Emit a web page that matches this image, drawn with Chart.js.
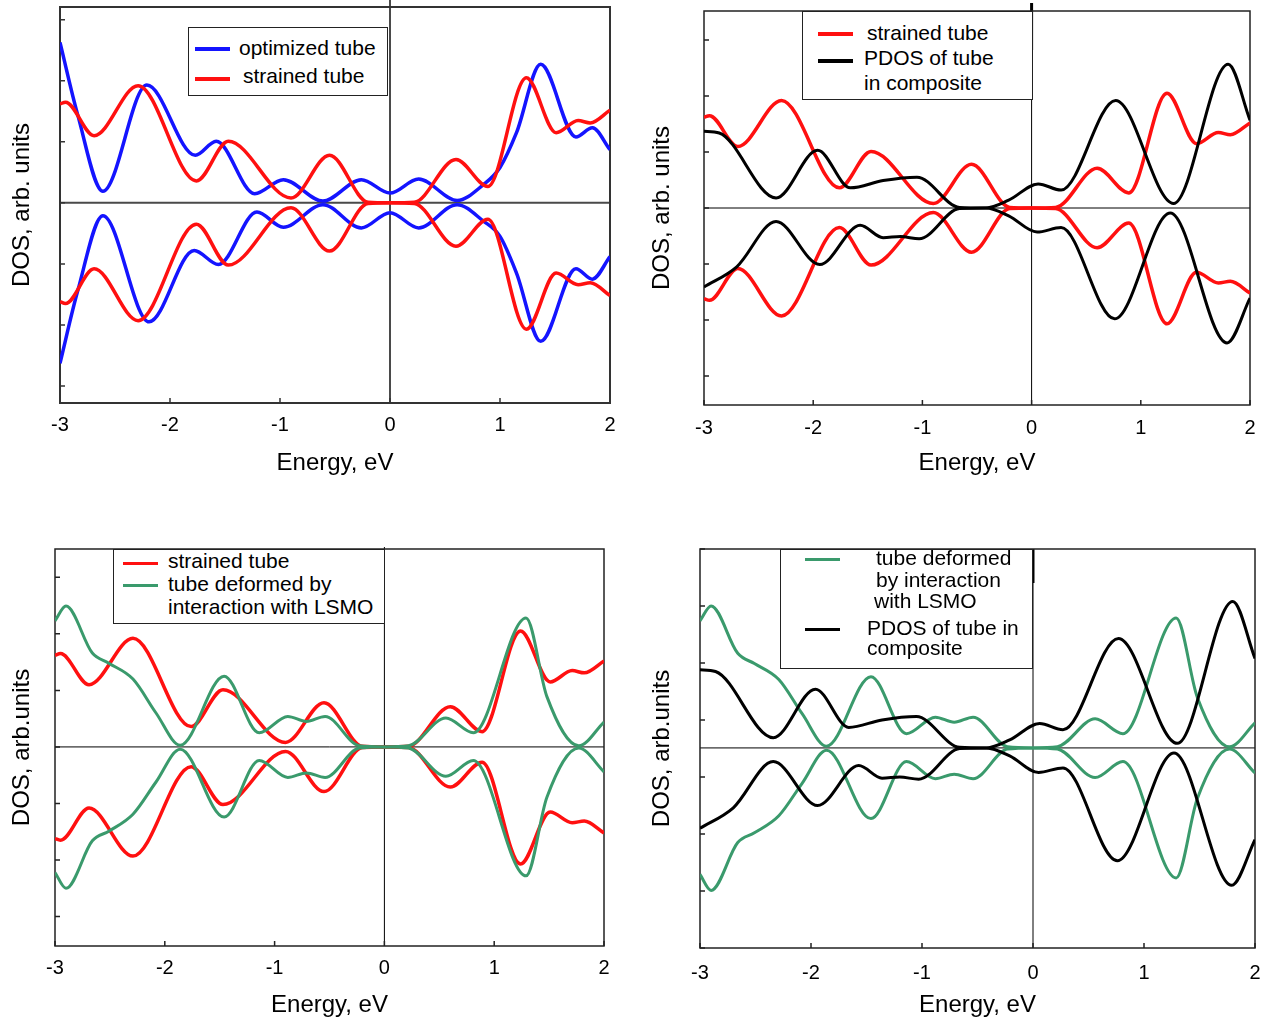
<!DOCTYPE html>
<html>
<head>
<meta charset="utf-8">
<script src="https://cdn.jsdelivr.net/npm/chart.js@4.4.1/dist/chart.umd.min.js"></script>
<style>
  body { margin: 0; background: #fff; width: 1275px; height: 1022px; position: relative; overflow: hidden;
         font-family: "Liberation Sans", Arial, sans-serif; }
  canvas { position: absolute; }
  .box { position: absolute; box-sizing: border-box; border: 1.5px solid #222; background: #fff; }
  .txt { position: absolute; white-space: nowrap; font-size: 21px; line-height: 21px; color: #000; }
  .smp { position: absolute; width: 35px; height: 3.5px; }
</style>
</head>
<body>
<canvas id="p1" width="637" height="490" style="left:0;top:0"></canvas>
<canvas id="p2" width="635" height="490" style="left:640px;top:0"></canvas>
<canvas id="p3" width="637" height="512" style="left:0;top:510px"></canvas>
<canvas id="p4" width="635" height="512" style="left:640px;top:510px"></canvas>

<!-- legend, top left -->
<div class="box" style="left:188px;top:27px;width:200px;height:69px"></div>
<div class="smp" style="left:195px;top:47px;background:#1414ff"></div>
<div class="smp" style="left:195px;top:77px;background:#ff1010"></div>
<div class="txt" style="left:239px;top:37px">optimized tube</div>
<div class="txt" style="left:243px;top:65px">strained tube</div>

<!-- legend, top right -->
<div class="box" style="left:802px;top:11px;width:231px;height:89px"></div>
<div class="smp" style="left:818px;top:32px;background:#ff1010"></div>
<div class="smp" style="left:818px;top:59px;background:#000"></div>
<div class="txt" style="left:867px;top:22px">strained tube</div>
<div class="txt" style="left:864px;top:47px">PDOS of tube</div>
<div class="txt" style="left:864px;top:72px">in composite</div>

<!-- legend, bottom left -->
<div class="box" style="left:113px;top:549px;width:272px;height:75px"></div>
<div class="smp" style="left:123px;top:562px;height:3px;background:#ff1010"></div>
<div class="smp" style="left:123px;top:584px;height:3px;background:#3a9a6c"></div>
<div class="txt" style="left:168px;top:550px">strained tube</div>
<div class="txt" style="left:168px;top:573px">tube deformed by</div>
<div class="txt" style="left:168px;top:596px">interaction with LSMO</div>

<!-- legend, bottom right -->
<div class="box" style="left:780px;top:549px;width:253px;height:120px"></div>
<div class="smp" style="left:805px;top:558px;height:3px;background:#3a9a6c"></div>
<div class="smp" style="left:805px;top:628px;height:3px;background:#000"></div>
<div class="txt" style="left:876px;top:547px">tube deformed</div>
<div class="txt" style="left:876px;top:569px">by interaction</div>
<div class="txt" style="left:874px;top:590px">with LSMO</div>
<div class="txt" style="left:867px;top:617px">PDOS of tube in</div>
<div class="txt" style="left:867px;top:637px">composite</div>

<script>
// energy axis, eV
const energyMin = -3;
const energyMax = 2;

// optimized tube (blue): spin up above zero, spin down below
const optUpE = [-3.00, -2.84, -2.61, -2.21, -1.77, -1.58, -1.23, -0.97, -0.61, -0.26, 0.00, 0.26, 0.61, 0.85, 1.00, 1.15, 1.37, 1.69, 1.84, 2.00];
const optUpV = [2.63, 1.45, 0.19, 1.93, 0.78, 1.01, 0.15, 0.38, 0.03, 0.38, 0.16, 0.39, 0.04, 0.30, 0.58, 1.15, 2.27, 1.08, 1.23, 0.87];
const optDnE = [-3.00, -2.84, -2.61, -2.19, -1.78, -1.56, -1.21, -0.97, -0.61, -0.26, 0.00, 0.26, 0.61, 0.85, 1.00, 1.15, 1.37, 1.69, 1.84, 2.00];
const optDnV = [-2.63, -1.45, -0.21, -1.95, -0.78, -1.01, -0.15, -0.40, -0.03, -0.41, -0.16, -0.41, -0.03, -0.30, -0.55, -1.15, -2.27, -1.08, -1.25, -0.88];

// strained tube (red)
const strE = [-3.00, -2.95, -2.69, -2.29, -1.76, -1.47, -0.90, -0.55, -0.20, 0.00, 0.22, 0.60, 0.89, 1.24, 1.51, 1.71, 1.82, 2.00];
const strUpV = [1.62, 1.65, 1.10, 1.92, 0.36, 1.01, 0.08, 0.78, 0.01, 0.00, 0.01, 0.71, 0.27, 2.05, 1.15, 1.35, 1.31, 1.52];
const strDnV = [-1.62, -1.65, -1.08, -1.93, -0.35, -1.02, -0.08, -0.79, -0.01, 0.00, -0.01, -0.71, -0.27, -2.07, -1.15, -1.34, -1.31, -1.52];

// PDOS of tube in composite (black)
const pdosUpE = [-3.00, -2.86, -2.34, -1.96, -1.66, -1.36, -1.05, -0.66, -0.42, -0.21, 0.06, 0.27, 0.77, 1.30, 1.80, 2.00];
const pdosUpV = [1.37, 1.34, 0.18, 1.03, 0.36, 0.49, 0.55, 0.01, 0.00, 0.14, 0.43, 0.32, 1.92, 0.08, 2.57, 1.57];
const pdosDnE = [-3.00, -2.70, -2.34, -1.94, -1.57, -1.36, -1.20, -1.03, -0.66, -0.42, -0.21, 0.05, 0.27, 0.76, 1.27, 1.79, 2.00];
const pdosDnV = [-1.41, -1.05, -0.24, -1.01, -0.31, -0.53, -0.51, -0.55, -0.01, 0.00, -0.14, -0.43, -0.35, -1.98, -0.09, -2.41, -1.61];

// tube deformed by interaction with LSMO (green)
const defE = [-3.00, -2.90, -2.66, -2.51, -2.29, -2.08, -1.86, -1.46, -1.14, -0.88, -0.71, -0.54, -0.23, 0.00, 0.22, 0.56, 0.81, 1.29, 1.48, 1.77, 2.00];
const defUpV = [2.23, 2.49, 1.66, 1.48, 1.20, 0.60, 0.03, 1.25, 0.25, 0.54, 0.45, 0.54, 0.02, 0.00, 0.02, 0.51, 0.25, 2.28, 0.89, 0.02, 0.44];
const defDnV = [-2.22, -2.50, -1.66, -1.49, -1.19, -0.62, -0.04, -1.24, -0.24, -0.54, -0.46, -0.54, -0.02, 0.00, -0.02, -0.52, -0.24, -2.28, -0.89, -0.02, -0.44];

const BLUE = "#1414ff";
const RED = "#ff1010";
const GREEN = "#3a9a6c";
const BLACK = "#000000";

Chart.defaults.font.family = '"Liberation Sans", Arial, sans-serif';
Chart.defaults.color = "#000";

function curve(label, es, vs, color, width) {
    return {
        label: label,
        data: es.map((e, i) => ({ x: e, y: vs[i] })),
        borderColor: color,
        borderWidth: width,
        pointRadius: 0,
        fill: false,
        cubicInterpolationMode: "monotone"
    };
}

// frame, zero lines and inward ticks
const framePlugin = {
    id: "frame",
    beforeDatasetsDraw(chart, args, o) {
        const ctx = chart.ctx;
        const a = chart.chartArea;
        const x = chart.scales.x;
        const y = chart.scales.y;
        const x0 = x.getPixelForValue(0);
        const y0 = y.getPixelForValue(0);

        ctx.save();
        ctx.strokeStyle = o.zeroColor;
        ctx.lineWidth = o.zeroWidth;
        ctx.beginPath();
        ctx.moveTo(a.left, y0);
        ctx.lineTo(a.right, y0);
        ctx.moveTo(x0, o.zeroTop ?? a.top);
        ctx.lineTo(x0, a.bottom);
        ctx.stroke();

        if (o.thick) {
            ctx.strokeStyle = "#000";
            ctx.lineWidth = 3;
            ctx.beginPath();
            ctx.moveTo(x0, o.thick[0]);
            ctx.lineTo(x0, o.thick[1]);
            ctx.stroke();
        }

        ctx.strokeStyle = o.frameColor;
        ctx.lineWidth = 1.5;
        ctx.beginPath();
        x.ticks.forEach(t => {
            const px = x.getPixelForValue(t.value);
            ctx.moveTo(px, a.bottom);
            ctx.lineTo(px, a.bottom - 5);
        });
        y.ticks.forEach(t => {
            const py = y.getPixelForValue(t.value);
            ctx.moveTo(a.left, py);
            ctx.lineTo(a.left + 5, py);
        });
        ctx.stroke();

        ctx.lineWidth = o.frameWidth;
        ctx.strokeRect(a.left, a.top, a.width, a.height);
        ctx.restore();
    }
};

function makePanel(id, p, datasets) {
    new Chart(document.getElementById(id), {
        type: "line",
        data: { datasets: datasets },
        plugins: [framePlugin],
        options: {
            responsive: false,
            animation: false,
            events: [],
            layout: { padding: { top: p.padTop, right: p.padRight, left: 0, bottom: 0 } },
            plugins: {
                legend: { display: false },
                tooltip: { enabled: false },
                frame: p.frame
            },
            scales: {
                x: {
                    type: "linear",
                    min: energyMin,
                    max: energyMax,
                    grid: { display: false, drawTicks: false },
                    border: { display: false },
                    ticks: { stepSize: 1, font: { size: 20 }, padding: p.tickPad, callback: v => String(v) },
                    title: { display: true, text: "Energy, eV", font: { size: 24 }, padding: { top: 0, bottom: p.titlePad } },
                    afterFit(s) { s.height = p.xH; }
                },
                y: {
                    type: "linear",
                    min: p.yMin,
                    max: p.yMax,
                    grid: { display: false, drawTicks: false },
                    border: { display: false },
                    ticks: { display: false, stepSize: 1, includeBounds: false },
                    title: { display: true, text: p.yTitle, font: { size: 24 }, padding: { top: 8, bottom: 0 } },
                    afterFit(s) { s.width = p.yW; }
                }
            }
        }
    });
}

makePanel("p1", {
    padTop: 7, padRight: 27, yW: 60, xH: 87, tickPad: 10, titlePad: 12.5,
    yMin: -3.28, yMax: 3.21, yTitle: "DOS, arb. units",
    frame: { zeroColor: "#4a4a4a", zeroWidth: 2, zeroTop: 0, frameColor: "#333", frameWidth: 2 }
}, [
    curve("strained tube", strE, strUpV, RED, 3.5),
    curve("strained tube", strE, strDnV, RED, 3.5),
    curve("optimized tube", optUpE, optUpV, BLUE, 3.5),
    curve("optimized tube", optDnE, optDnV, BLUE, 3.5)
]);

makePanel("p2", {
    padTop: 11, padRight: 25, yW: 64, xH: 85, tickPad: 11, titlePad: 12.5,
    yMin: -3.52, yMax: 3.52, yTitle: "DOS, arb. units",
    frame: { zeroColor: "#000", zeroWidth: 1, frameColor: "#222", frameWidth: 1.5, thick: [3, 50] }
}, [
    curve("PDOS of tube in composite", pdosUpE, pdosUpV, BLACK, 3),
    curve("PDOS of tube in composite", pdosDnE, pdosDnV, BLACK, 3),
    curve("strained tube", strE, strUpV, RED, 3.5),
    curve("strained tube", strE, strDnV, RED, 3.5)
]);

makePanel("p3", {
    padTop: 39, padRight: 33, yW: 55, xH: 76, tickPad: 10, titlePad: 2.5,
    yMin: -3.52, yMax: 3.50, yTitle: "DOS, arb.units",
    frame: { zeroColor: "#000", zeroWidth: 1, zeroTop: 37, frameColor: "#222", frameWidth: 1.5 }
}, [
    curve("tube deformed by interaction with LSMO", defE, defUpV, GREEN, 3),
    curve("tube deformed by interaction with LSMO", defE, defDnV, GREEN, 3),
    curve("strained tube", strE, strUpV, RED, 3.5),
    curve("strained tube", strE, strDnV, RED, 3.5)
]);

makePanel("p4", {
    padTop: 39, padRight: 20, yW: 60, xH: 74, tickPad: 13, titlePad: 2.5,
    yMin: -3.51, yMax: 3.49, yTitle: "DOS, arb.units",
    frame: { zeroColor: "#000", zeroWidth: 1, frameColor: "#222", frameWidth: 1.5, thick: [39, 73] }
}, [
    curve("PDOS of tube in composite", pdosUpE, pdosUpV, BLACK, 3),
    curve("PDOS of tube in composite", pdosDnE, pdosDnV, BLACK, 3),
    curve("tube deformed by interaction with LSMO", defE, defUpV, GREEN, 3),
    curve("tube deformed by interaction with LSMO", defE, defDnV, GREEN, 3)
]);
</script>
</body>
</html>
